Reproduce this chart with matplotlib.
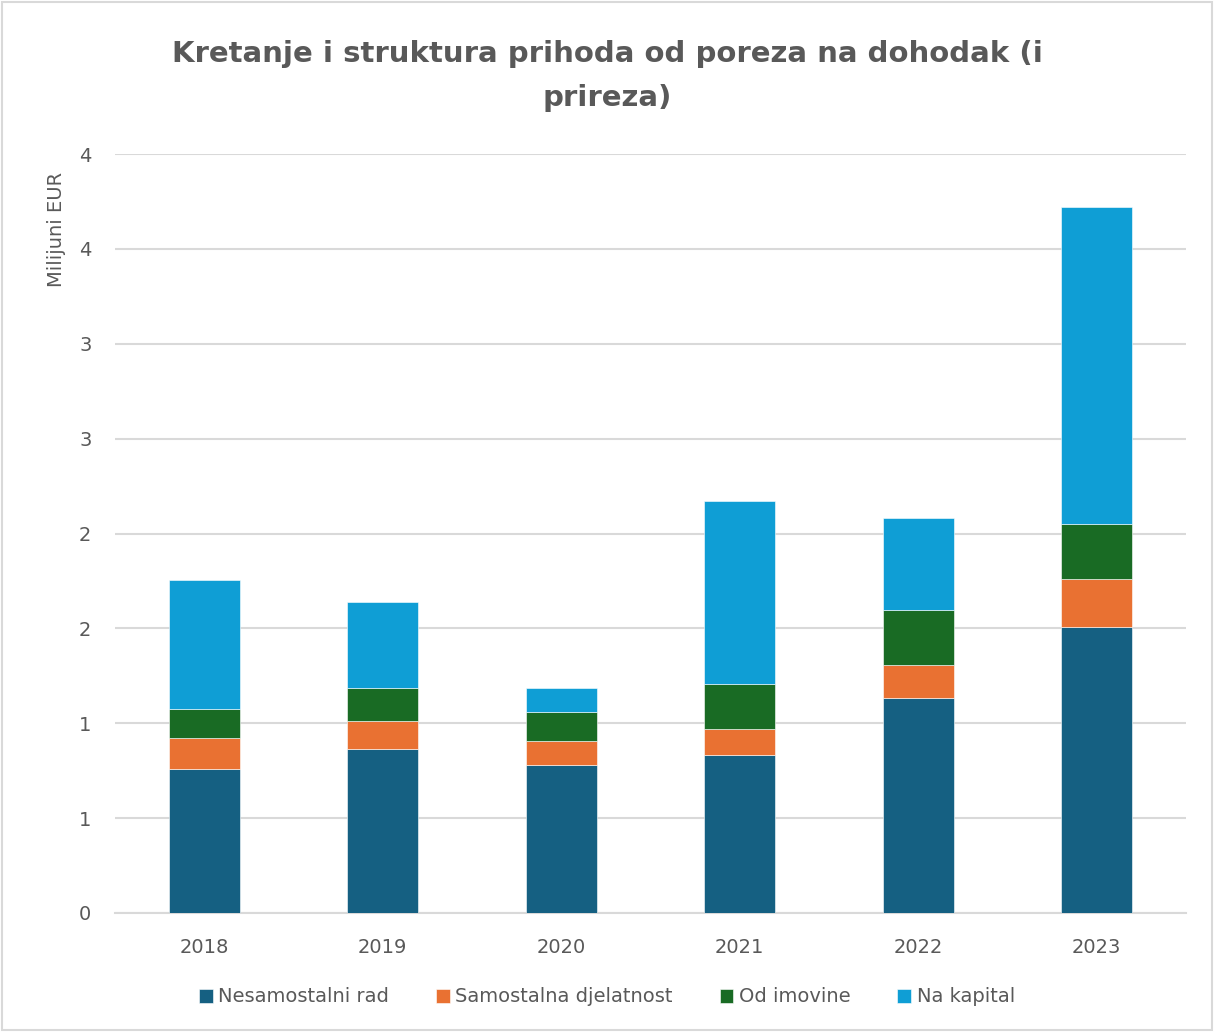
import matplotlib
matplotlib.use("Agg")
import matplotlib.pyplot as plt
from matplotlib.ticker import FuncFormatter, MultipleLocator
import numpy as np

years = ["2018", "2019", "2020", "2021", "2022", "2023"]
nesamostalni = [0.759, 0.864, 0.780, 0.833, 1.133, 1.507]
samostalna = [0.163, 0.148, 0.126, 0.137, 0.174, 0.253]
imovina = [0.153, 0.174, 0.153, 0.237, 0.290, 0.290]
kapital = [0.680, 0.453, 0.127, 0.964, 0.485, 1.671]

series = [
    ("Nesamostalni rad", nesamostalni, "#156082"),
    ("Samostalna djelatnost", samostalna, "#E97132"),
    ("Od imovine", imovina, "#196B24"),
    ("Na kapital", kapital, "#0F9ED5"),
]

txt = "#595959"
W, H = 1214, 1032
fig = plt.figure(figsize=(W / 100, H / 100), dpi=100)
ax = fig.add_axes([115 / W, 1 - 913 / H, 1071 / W, (913 - 154) / H])

x = np.arange(len(years))
bottom = np.zeros(len(years))
for name, vals, col in series:
    ax.bar(x, vals, 0.40, bottom=bottom, color=col, label=name,
           edgecolor="white", linewidth=0.4, zorder=3)
    bottom += np.array(vals)

ax.set_xlim(-0.5, len(years) - 0.5)
ax.set_ylim(0, 4.0)
ax.yaxis.set_major_locator(MultipleLocator(0.5))
ax.yaxis.set_major_formatter(FuncFormatter(lambda v, p: f"{int(np.floor(v + 0.5))}"))
ax.grid(axis="y", color="#D9D9D9", linewidth=1.5, zorder=0)
for s in ["top", "right", "left"]:
    ax.spines[s].set_visible(False)
ax.spines["bottom"].set_color("#D9D9D9")
ax.spines["bottom"].set_linewidth(1.5)
ax.set_xticks(x)
ax.set_xticklabels(years)
ax.tick_params(axis="both", length=0, colors=txt, labelsize=14)
ax.tick_params(axis="y", pad=17)
ax.tick_params(axis="x", pad=18)
ax.set_ylabel("Milijuni EUR", color=txt, fontsize=14)
ax.yaxis.set_label_coords(-0.046, 0.90)

fig.text(0.5, 1 - 76 / H, "Kretanje i struktura prihoda od poreza na dohodak (i\nprireza)",
         ha="center", va="center", fontsize=21, fontweight="bold", color=txt,
         linespacing=1.75)

leg = fig.legend(loc="center", bbox_to_anchor=(0.5, 1 - 997 / H), ncol=4, frameon=False,
                 fontsize=14, handlelength=0.7, handleheight=0.7, handletextpad=0.3,
                 columnspacing=2.4)
for t in leg.get_texts():
    t.set_color(txt)

fig.patches.append(plt.Rectangle((0.002, 0.002), 0.996, 0.996, transform=fig.transFigure,
                                 fill=False, edgecolor="#D9D9D9", linewidth=1.5))
fig.savefig("out.png", dpi=100, facecolor="white")
